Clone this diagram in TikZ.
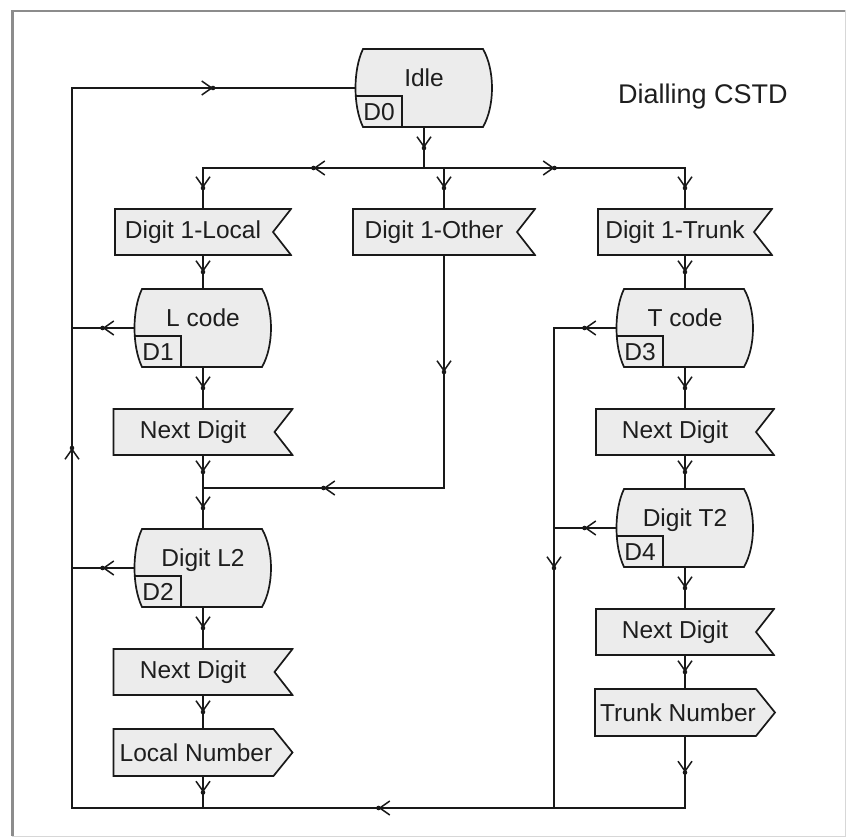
\documentclass[tikz,border=0pt]{standalone}
\usepackage{fontspec}
\setmainfont{Liberation Sans}
\usetikzlibrary{arrows.meta,decorations.markings}

\definecolor{boxfill}{RGB}{236,236,236}
\definecolor{inkc}{RGB}{30,30,30}
\definecolor{linec}{RGB}{25,25,25}
\definecolor{framedark}{RGB}{140,140,140}
\definecolor{framelight}{RGB}{215,215,215}

\newcommand\boxfont{\fontsize{24.5pt}{28pt}\selectfont}
\newcommand\titlefont{\fontsize{27pt}{32pt}\selectfont}

\tikzset{
  outline/.style={fill=boxfill, draw=linec, line width=1.7pt, line join=miter},
  shapebase/.style={rectangle, inner sep=0pt, outer sep=0pt, font=\boxfont, text=inkc},
  % SDL state: bulging sides, with a tag box in the lower left corner
  statebox/.style={shapebase, minimum width=140pt, minimum height=80pt,
    text height=0pt, text depth=2.5pt,
    label={[dtag]south west:#1},
    path picture={
      \path[outline]
        ([shift={(9pt,-1pt)}]path picture bounding box.north west)
        -- ([shift={(-11pt,-1pt)}]path picture bounding box.north east)
        .. controls ([shift={(1pt,-22pt)}]path picture bounding box.north east)
               and ([shift={(1pt,22pt)}]path picture bounding box.south east)
        .. ([shift={(-11pt,1pt)}]path picture bounding box.south east)
        -- ([shift={(9pt,1pt)}]path picture bounding box.south west)
        .. controls ([shift={(-1pt,22pt)}]path picture bounding box.south west)
               and ([shift={(-1pt,-22pt)}]path picture bounding box.north west)
        .. cycle;
      \draw[linec, line width=1.7pt]
        ([shift={(2pt,-8pt)}]path picture bounding box.west)
        -- ([shift={(48pt,-8pt)}]path picture bounding box.west)
        -- ([shift={(48pt,1pt)}]path picture bounding box.south west);
    }},
  dtag/.style={anchor=center, shift={(25pt,16pt)}, font=\boxfont, text=inkc,
    inner sep=0pt, text height=17.5pt, text depth=0pt},
  % input signal: notch on the right side
  recvsig/.style={shapebase, minimum width=#1pt, minimum height=48pt,
    execute at end node={\hspace*{20pt}},
    path picture={
      \path[outline]
        ([shift={(1pt,-1pt)}]path picture bounding box.north west)
        -- ([shift={(-1pt,-1pt)}]path picture bounding box.north east)
        -- ([shift={(-19pt,0pt)}]path picture bounding box.east)
        -- ([shift={(-1pt,1pt)}]path picture bounding box.south east)
        -- ([shift={(1pt,1pt)}]path picture bounding box.south west)
        -- cycle;
    }},
  % output signal: pointed right side
  sendsig/.style={shapebase, minimum width=#1pt, minimum height=49pt,
    execute at end node={\hspace*{14pt}},
    path picture={
      \path[outline]
        ([shift={(1pt,-1pt)}]path picture bounding box.north west)
        -- ([shift={(-20pt,-1pt)}]path picture bounding box.north east)
        -- ([shift={(-1pt,0pt)}]path picture bounding box.east)
        -- ([shift={(-20pt,1pt)}]path picture bounding box.south east)
        -- ([shift={(1pt,1pt)}]path picture bounding box.south west)
        -- cycle;
    }},
  % connector with an open arrowhead half way along
  flow/.style={draw=linec, line width=1.7pt, line cap=rect, postaction={decorate},
    decoration={markings, mark=at position 0.5 with {
      \arrow{Straight Barb[length=10pt,width=14pt,line width=1.5pt]}
      \fill[linec] (0pt,0pt) circle (2.3pt);}}},
}

\begin{document}
\begin{tikzpicture}[x=1pt, y=-1pt]
  \useasboundingbox (0,0) rectangle (860,840);
  \fill[white] (0,0) rectangle (860,840);

  % window frame
  \draw[framelight, line width=1pt] (12.5,11) rectangle (845,836);
  \draw[framedark, line width=2.5pt] (12.5,836) -- (12.5,11) -- (845,11);

  \node[font=\titlefont, text=inkc] (title) at (703,97) {Dialling CSTD};

  % states
  \node[statebox=D0] (idle)  at (424,88)  {Idle};
  \node[statebox=D1] (lcode) at (203,328) {L code};
  \node[statebox=D2] (dl2)   at (203,568) {Digit L2};
  \node[statebox=D3] (tcode) at (685,328) {T code};
  \node[statebox=D4] (dt2)   at (685,528) {Digit T2};

  % input signals
  \node[recvsig=178] (d1l)  at (203,232) {Digit 1-Local};
  \node[recvsig=184] (d1o)  at (444,232) {Digit 1-Other};
  \node[recvsig=176] (d1t)  at (685,232) {Digit 1-Trunk};
  \node[recvsig=181] (ndl1) at (203,432) {Next Digit};
  \node[recvsig=181] (ndl2) at (203,672) {Next Digit};
  \node[recvsig=180] (ndt1) at (685,432) {Next Digit};
  \node[recvsig=180] (ndt2) at (685,632) {Next Digit};

  % output signals
  \node[sendsig=181] (locnum)   at (203,752.5) {Local Number};
  \node[sendsig=182] (trunknum) at (685,712.5) {Trunk Number};

  % junction points
  \coordinate (br)    at (424,168);
  \coordinate (brL)   at (203,168);
  \coordinate (brM)   at (444,168);
  \coordinate (brR)   at (685,168);
  \coordinate (jL)    at (203,488);
  \coordinate (jM)    at (444,488);
  \coordinate (retL1) at (72,328);
  \coordinate (retL2) at (72,568);
  \coordinate (retT1) at (554,328);
  \coordinate (retT2) at (554,528);
  \coordinate (botX)  at (554,808);
  \coordinate (botL)  at (203,808);
  \coordinate (botR)  at (685,808);
  \coordinate (botLL) at (72,808);
  \coordinate (topL)  at (72,88);

  % Idle fans out to the three first-digit inputs
  \draw[flow] (idle) -- (br);
  \draw[flow] (br) -- (brL);
  \draw[flow] (br) -- (brR);
  \draw[flow] (brL) -- (d1l);
  \draw[flow] (brM) -- (d1o);
  \draw[flow] (brR) -- (d1t);

  % local branch
  \draw[flow] (d1l) -- (lcode);
  \draw[flow] (lcode) -- (ndl1);
  \draw[flow] (ndl1) -- (jL);
  \draw[flow] (jL) -- (dl2);
  \draw[flow] (dl2) -- (ndl2);
  \draw[flow] (ndl2) -- (locnum);
  \draw[flow] (locnum) -- (botL);

  % other-digit branch joins the local branch
  \draw[flow] (d1o) -- (jM);
  \draw[flow] (jM) -- (jL);

  % trunk branch
  \draw[flow] (d1t) -- (tcode);
  \draw[flow] (tcode) -- (ndt1);
  \draw[flow] (ndt1) -- (dt2);
  \draw[flow] (dt2) -- (ndt2);
  \draw[flow] (ndt2) -- (trunknum);
  \draw[flow] (trunknum) -- (botR);

  % returns to Idle
  \draw[flow] (lcode) -- (retL1);
  \draw[flow] (dl2) -- (retL2);
  \draw[flow] (tcode) -- (retT1);
  \draw[flow] (dt2) -- (retT2);
  \draw[flow] (retT1) -- (botX);
  \draw[flow] (botR) -- (botLL);
  \draw[flow] (botLL) -- (topL);
  \draw[flow] (topL) -- (idle);
\end{tikzpicture}
\end{document}
